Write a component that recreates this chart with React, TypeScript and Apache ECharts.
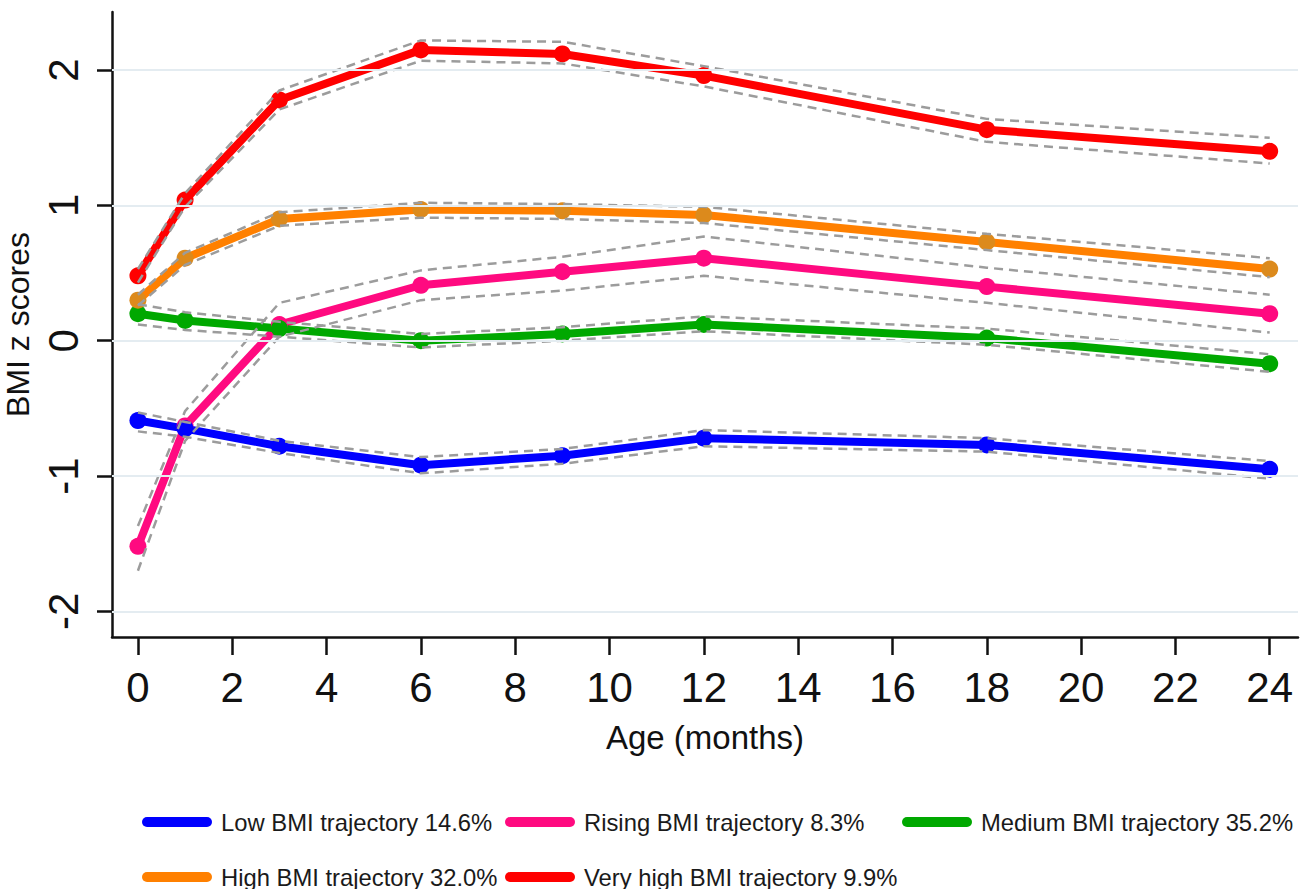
import React, { useEffect, useRef } from "react";
import * as echarts from "echarts";

const ages = [0, 1, 3, 6, 9, 12, 18, 24];
const xTicks = [0, 2, 4, 6, 8, 10, 12, 14, 16, 18, 20, 22, 24];
const yTicks = [-2, -1, 0, 1, 2];

const lowMean = [-0.59, -0.65, -0.78, -0.92, -0.85, -0.72, -0.77, -0.95];
const lowUpper = [-0.53, -0.6, -0.74, -0.86, -0.8, -0.66, -0.72, -0.89];
const lowLower = [-0.67, -0.71, -0.83, -0.98, -0.91, -0.78, -0.82, -1.02];

const risingMean = [-1.52, -0.63, 0.12, 0.41, 0.51, 0.61, 0.4, 0.2];
const risingUpper = [-1.37, -0.52, 0.28, 0.52, 0.62, 0.77, 0.54, 0.34];
const risingLower = [-1.7, -0.74, 0.03, 0.3, 0.37, 0.48, 0.28, 0.06];

const mediumMean = [0.2, 0.15, 0.09, 0.0, 0.05, 0.12, 0.02, -0.17];
const mediumUpper = [0.27, 0.21, 0.14, 0.05, 0.1, 0.18, 0.09, -0.1];
const mediumLower = [0.12, 0.08, 0.03, -0.05, 0.0, 0.07, -0.03, -0.23];

const highMean = [0.3, 0.61, 0.9, 0.97, 0.96, 0.93, 0.73, 0.53];
const highUpper = [0.34, 0.65, 0.95, 1.02, 1.01, 0.99, 0.79, 0.61];
const highLower = [0.26, 0.56, 0.85, 0.91, 0.9, 0.87, 0.67, 0.47];

const veryHighMean = [0.48, 1.04, 1.78, 2.15, 2.12, 1.96, 1.56, 1.4];
const veryHighUpper = [0.53, 1.09, 1.85, 2.22, 2.21, 2.03, 1.64, 1.5];
const veryHighLower = [0.43, 0.99, 1.71, 2.07, 2.05, 1.88, 1.47, 1.31];

const names = [
  "Low BMI trajectory 14.6%",
  "Rising BMI trajectory 8.3%",
  "Medium BMI trajectory 35.2%",
  "High BMI trajectory 32.0%",
  "Very high BMI trajectory 9.9%",
];

const FONT = "'Liberation Sans', Arial, Helvetica, sans-serif";

export default function App() {
  const ref = useRef<HTMLDivElement>(null);

  useEffect(() => {
    if (!ref.current) return;
    const chart = echarts.init(ref.current, undefined, { renderer: "svg" });

    const groups = [
      { name: names[1], mean: risingMean, up: risingUpper, lo: risingLower, color: "#ff0a80", marker: "#ff0a80" },
      { name: names[0], mean: lowMean, up: lowUpper, lo: lowLower, color: "#0000ff", marker: "#0000ff" },
      { name: names[2], mean: mediumMean, up: mediumUpper, lo: mediumLower, color: "#00a800", marker: "#00a800" },
      { name: names[3], mean: highMean, up: highUpper, lo: highLower, color: "#ff8000", marker: "#dc8a1c" },
      { name: names[4], mean: veryHighMean, up: veryHighUpper, lo: veryHighLower, color: "#ff0000", marker: "#ff0000" },
    ];
    const colorOf: Record<string, string> = {};
    groups.forEach((g) => (colorOf[g.name] = g.color));

    const toPts = (vals: number[]) => ages.map((a, i) => [a, vals[i]]);

    const series: any[] = [
      {
        type: "line",
        name: "grid",
        data: [],
        silent: true,
        z: 1,
        markLine: {
          silent: true,
          symbol: "none",
          label: { show: false },
          lineStyle: { color: "#e4ecf1", width: 2, type: "solid" },
          data: yTicks.map((v) => ({ yAxis: v })),
        },
      },
    ];

    groups.forEach((g) => {
      series.push({
        type: "line",
        name: g.name,
        data: toPts(g.mean),
        symbol: "circle",
        symbolSize: 17,
        z: 3,
        lineStyle: { color: g.color, width: 8, join: "round", cap: "round" },
        itemStyle: { color: g.marker },
      });
    });

    groups.forEach((g) => {
      [g.up, g.lo].forEach((arr, k) => {
        series.push({
          type: "line",
          name: g.name + (k === 0 ? " upper" : " lower"),
          data: toPts(arr),
          symbol: "none",
          showSymbol: false,
          silent: true,
          z: 4,
          lineStyle: { color: "#9c9c9c", width: 2.5, type: [9, 6] },
        });
      });
    });

    const legendPos = [
      { name: names[0], left: 142, top: 810 },
      { name: names[1], left: 505, top: 810 },
      { name: names[2], left: 902, top: 810 },
      { name: names[3], left: 142, top: 865 },
      { name: names[4], left: 505, top: 865 },
    ];

    const legend = legendPos.map((p) => ({
      data: [{ name: p.name, itemStyle: { color: colorOf[p.name] } }],
      left: p.left,
      top: p.top,
      padding: 0,
      itemWidth: 70,
      itemHeight: 10,
      icon: "path://M5 0H65A5 5 0 0 1 65 10H5A5 5 0 0 1 5 0Z",
      selectedMode: false,
      textStyle: { fontSize: 23.8, fontFamily: FONT, color: "#1a1a1a", padding: [0, 0, 0, 4] },
    }));

    chart.setOption({
      animation: false,
      backgroundColor: "#ffffff",
      grid: { left: 112, right: 6, top: 12, bottom: 252, containLabel: false, outerBoundsMode: "none" },
      legend,
      xAxis: {
        type: "value",
        min: -0.55,
        max: 24.6,
        name: "Age (months)",
        nameLocation: "middle",
        nameGap: 84,
        nameTextStyle: { fontSize: 33, fontFamily: FONT, color: "#111" },
        axisLine: { show: true, onZero: false, lineStyle: { color: "#111", width: 2.5 } },
        axisTick: { show: true, length: 18, customValues: xTicks, lineStyle: { color: "#111", width: 2.5 } },
        axisLabel: { customValues: xTicks, fontSize: 42, fontFamily: FONT, color: "#111", margin: 29 },
        splitLine: { show: false },
      },
      yAxis: {
        type: "value",
        min: -2.19,
        max: 2.43,
        name: "BMI z scores",
        nameLocation: "middle",
        nameGap: 70,
        nameRotate: 90,
        nameTextStyle: { fontSize: 32, fontFamily: FONT, color: "#111" },
        axisLine: { show: true, onZero: false, lineStyle: { color: "#111", width: 2.5 } },
        axisTick: { show: true, length: 15, customValues: yTicks, lineStyle: { color: "#111", width: 2.5 } },
        axisLabel: { customValues: yTicks, rotate: 90, fontSize: 42, fontFamily: FONT, color: "#111", margin: 28 },
        splitLine: { show: false },
      },
      series,
    });

    return () => {
      chart.dispose();
    };
  }, []);

  return (
    <div
      ref={ref}
      style={{ position: "fixed", left: 0, top: 0, width: 1304, height: 889, background: "#fff" }}
    />
  );
}
